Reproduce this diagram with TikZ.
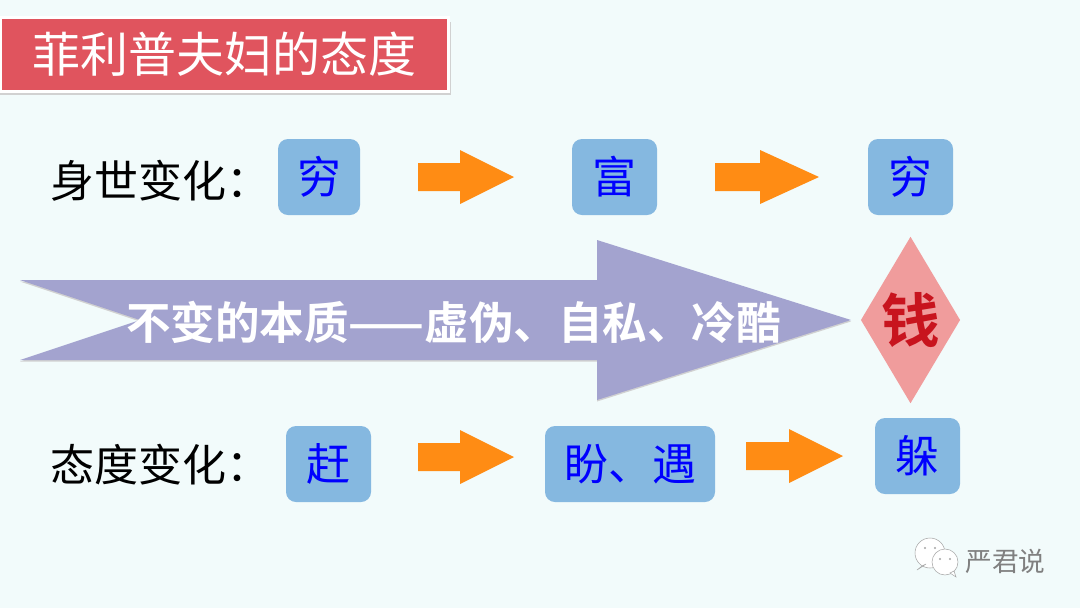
\documentclass[tikz,border=0pt]{standalone}
\usepackage{fontspec}
\usetikzlibrary{shapes.geometric}
\newfontfamily\cjk{Noto Sans CJK SC}
\newfontfamily\cjkb{Noto Sans CJK SC Bold}
\definecolor{bgc}{HTML}{F2FBFB}
\definecolor{titlered}{HTML}{E0545E}
\definecolor{boxblue}{HTML}{85B8E0}
\definecolor{arroworange}{HTML}{FF8C14}
\definecolor{bigpurple}{HTML}{A3A3CF}
\definecolor{diapink}{HTML}{F09C9C}
\definecolor{moneyred}{HTML}{C8141E}
\tikzset{
  x=0.75pt,y=-0.75pt,
  valuebox/.style={draw=none,fill=boxblue,rounded corners=7.5pt,inner sep=0pt,text=blue,font=\cjk\fontsize{33}{33}\selectfont,anchor=center},
  rowlabel/.style={inner sep=0pt,text=black,font=\cjk\fontsize{33}{33}\selectfont,anchor=west},
  orangearrow/.style={fill=arroworange,draw=none},
}
\newcommand{\blockarrow}[4]{% x0, xhead, xtip, ycentre
  \fill[orangearrow] (#1,#4-14) -- (#2,#4-14) -- (#2,#4-27) -- (#3,#4) -- (#2,#4+27) -- (#2,#4+14) -- (#1,#4+14) -- cycle;
}
\begin{document}
\begin{tikzpicture}
\useasboundingbox (0,0) rectangle (1080,608);
\fill[bgc] (0,0) rectangle (1080,608);
% title
\fill[black!18] (0,22) rectangle (451,95);
\fill[white] (0,16) rectangle (450,93);
\node[fill=titlered,minimum width=334pt,minimum height=53.25pt,inner sep=0pt,text=white,font=\cjk\fontsize{36}{36}\selectfont] (title) at (224.5,54.5) {菲利普夫妇的态度};
% rows
\node[rowlabel] (lab1) at (50,181) {身世变化：};
\node[rowlabel] (lab2) at (50,465) {态度变化：};
\node[valuebox,minimum width=61.5pt,minimum height=57pt] (a1) at (319,177) {穷};
\node[valuebox,minimum width=63.75pt,minimum height=57pt] (a2) at (614.5,177) {富};
\node[valuebox,minimum width=63.75pt,minimum height=57pt] (a3) at (910.5,177) {穷};
\node[valuebox,minimum width=63.75pt,minimum height=57pt] (b1) at (328.5,464) {赶};
\node[valuebox,minimum width=127.5pt,minimum height=57pt] (b2) at (630,464) {盼、遇};
\node[valuebox,minimum width=63.75pt,minimum height=57pt] (b3) at (917.5,456) {躲};
% block arrows
\blockarrow{418}{460}{514}{177}
\blockarrow{715}{760}{819}{177}
\blockarrow{418}{460}{514}{457}
\blockarrow{746}{789}{843}{456}
% big arrow
\fill[black!18] (20,281.5) -- (597,281.5) -- (597,241.5) -- (851,321.5) -- (597,401.5) -- (597,361.5) -- (20,361.5) -- (140,321.5) -- cycle;
\fill[bigpurple] (20,280) -- (597,280) -- (597,240) -- (851,320) -- (597,400) -- (597,360) -- (20,360) -- (140,320) -- cycle;
\node[inner sep=0pt,text=white,font=\cjkb\fontsize{33.4}{33.4}\selectfont] (essence) at (453.5,322) {不变的本质——虚伪、自私、冷酷};
% diamond
\node[diamond,aspect=0.6,fill=diapink,draw=none,inner sep=0pt,minimum width=74.5pt,minimum height=125pt,text=moneyred,font=\cjkb\fontsize{44}{44}\selectfont] (money) at (910.5,320) {钱};
% watermark
\fill[white,draw=black!35,line width=0.4pt] (930,553) circle (15);
\fill[white,draw=black!35,line width=0.4pt] (922,566) -- (917,570) -- (926,564) -- cycle;
\fill[white,draw=black!35,line width=0.4pt] (945,562) circle (13);
\fill[white,draw=black!35,line width=0.4pt] (950,573) -- (956,577) -- (954,571) -- cycle;
\fill[black!35] (925,548) circle (1.2) (935,548) circle (1.2) (940,559) circle (1.2) (950,559) circle (1.2);
\node[inner sep=0pt,text=black!50,font=\cjk\fontsize{20}{20}\selectfont] (mark) at (1005.5,561) {严君说};
\end{tikzpicture}
\end{document}
